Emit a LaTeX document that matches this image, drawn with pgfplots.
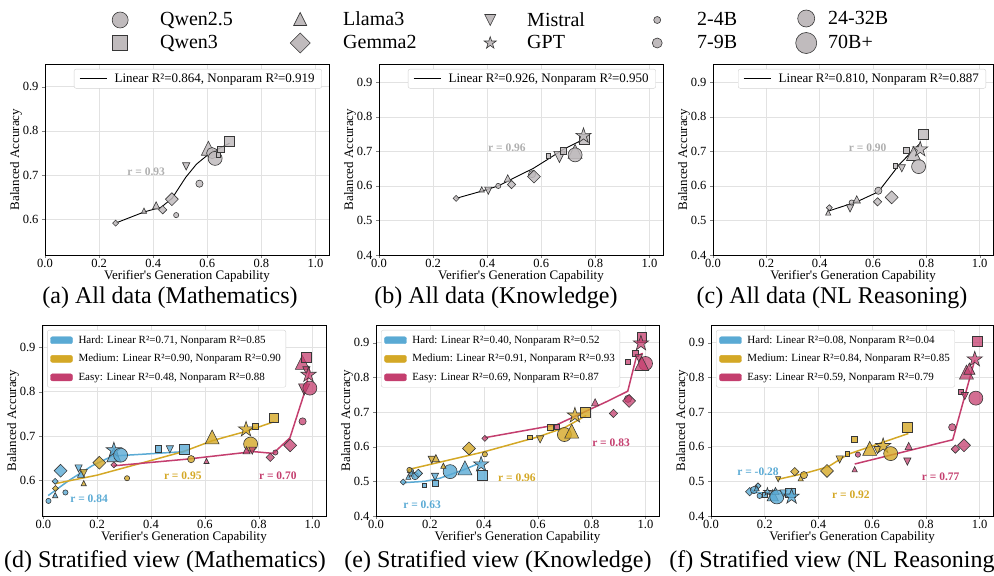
\documentclass[border=0pt]{standalone}
\usepackage{fontspec}
\setmainfont{Liberation Serif}
\usepackage{pgfplots}
\pgfplotsset{compat=1.18}

\definecolor{gfill}{RGB}{192,187,189}
\definecolor{gedge}{RGB}{55,55,55}
\definecolor{hardc}{RGB}{90,170,212}
\definecolor{medc}{RGB}{212,168,38}
\definecolor{easyc}{RGB}{196,62,110}
\definecolor{gridc}{RGB}{226,226,226}
\definecolor{rgray}{RGB}{175,175,175}

\pgfdeclareplotmark{msq}{\pgfpathrectangle{\pgfqpoint{-0.88\pgfplotmarksize}{-0.88\pgfplotmarksize}}{\pgfqpoint{1.76\pgfplotmarksize}{1.76\pgfplotmarksize}}\pgfusepathqfillstroke}
\pgfdeclareplotmark{mdia}{\pgfpathmoveto{\pgfqpoint{0pt}{1.15\pgfplotmarksize}}\pgfpathlineto{\pgfqpoint{1.15\pgfplotmarksize}{0pt}}\pgfpathlineto{\pgfqpoint{0pt}{-1.15\pgfplotmarksize}}\pgfpathlineto{\pgfqpoint{-1.15\pgfplotmarksize}{0pt}}\pgfpathclose\pgfusepathqfillstroke}
\pgfdeclareplotmark{mtri}{\pgfpathmoveto{\pgfqpoint{0pt}{\pgfplotmarksize}}\pgfpathlineto{\pgfqpoint{\pgfplotmarksize}{-\pgfplotmarksize}}\pgfpathlineto{\pgfqpoint{-\pgfplotmarksize}{-\pgfplotmarksize}}\pgfpathclose\pgfusepathqfillstroke}
\pgfdeclareplotmark{mtrid}{\pgfpathmoveto{\pgfqpoint{0pt}{-\pgfplotmarksize}}\pgfpathlineto{\pgfqpoint{\pgfplotmarksize}{\pgfplotmarksize}}\pgfpathlineto{\pgfqpoint{-\pgfplotmarksize}{\pgfplotmarksize}}\pgfpathclose\pgfusepathqfillstroke}
\pgfdeclareplotmark{mstar}{\pgfpathmoveto{\pgfqpoint{0pt}{1.15\pgfplotmarksize}}%
\pgfpathlineto{\pgfqpoint{-0.2586\pgfplotmarksize}{0.356\pgfplotmarksize}}%
\pgfpathlineto{\pgfqpoint{-1.0938\pgfplotmarksize}{0.3554\pgfplotmarksize}}%
\pgfpathlineto{\pgfqpoint{-0.4185\pgfplotmarksize}{-0.136\pgfplotmarksize}}%
\pgfpathlineto{\pgfqpoint{-0.676\pgfplotmarksize}{-0.9304\pgfplotmarksize}}%
\pgfpathlineto{\pgfqpoint{0pt}{-0.44\pgfplotmarksize}}%
\pgfpathlineto{\pgfqpoint{0.676\pgfplotmarksize}{-0.9304\pgfplotmarksize}}%
\pgfpathlineto{\pgfqpoint{0.4185\pgfplotmarksize}{-0.136\pgfplotmarksize}}%
\pgfpathlineto{\pgfqpoint{1.0938\pgfplotmarksize}{0.3554\pgfplotmarksize}}%
\pgfpathlineto{\pgfqpoint{0.2586\pgfplotmarksize}{0.356\pgfplotmarksize}}%
\pgfpathclose\pgfusepathqfillstroke}

\newcommand{\mk}[5]{\addplot[forget plot,only marks,mark=#1,mark size=#2pt,#3] coordinates {(#4,#5)};}

\pgfplotsset{
  gm/.style={mark options={solid,fill=gfill,draw=gedge,fill opacity=0.85,line width=0.6pt}},
  hm/.style={mark options={solid,fill=hardc,draw=gedge,fill opacity=0.8,line width=0.6pt}},
  mm/.style={mark options={solid,fill=medc,draw=gedge,fill opacity=0.8,line width=0.6pt}},
  em/.style={mark options={solid,fill=easyc,draw=gedge,fill opacity=0.75,line width=0.6pt}},
  base/.style={scale only axis, anchor=south west, xmin=0, xmax=1.05,
    xtick={0,0.2,0.4,0.6,0.8,1.0},
    grid=major, grid style={gridc, line width=0.6pt},
    tick align=outside, tick pos=left, major tick length=3pt,
    axis line style={line width=0.8pt},
    /pgf/number format/assume math mode=true,
    tick label style={font=\fontsize{12.5}{14}\selectfont},
    label style={font=\fontsize{13}{15}\selectfont},
    xticklabel style={yshift=2pt, /pgf/number format/.cd, fixed, fixed zerofill, precision=1},
    yticklabel style={/pgf/number format/.cd, fixed, fixed zerofill, precision=1},
    xlabel={Verifier\textquotesingle s Generation Capability}, ylabel={Balanced Accuracy},
    xlabel style={yshift=5pt}, ylabel shift=-6pt,
    height=191pt},
  toplegend/.style={legend style={at={(0.975,0.974)}, anchor=north east, draw=black!18,
    rounded corners=2pt, fill=white, font=\fontsize{13}{15}\selectfont, inner xsep=5pt, inner ysep=2.5pt},
    legend image code/.code={\draw[##1] (0pt,0pt) -- (27pt,0pt); \path[draw=none] (27pt,0pt) -- (33pt,0pt);}},
  botlegend/.style={legend cell align=left, legend style={at={(0.018,0.974)}, anchor=north west, draw=black!18,
    rounded corners=2pt, fill=white, font=\fontsize{11}{13}\selectfont, row sep=5.5pt, inner xsep=3pt, inner ysep=3.5pt},
    legend image code/.code={\fill[##1] (0pt,-3.5pt) rectangle (22pt,3.5pt); \path[draw=none] (22pt,0pt) -- (26pt,0pt);}},
  figleg/.style={at={(0pt,-60pt)}, anchor=south west, scale only axis, width=994pt, height=60pt,
    hide axis, xmin=0, xmax=1, ymin=0, ymax=1, legend cell align=left,
    legend style={draw=none, fill=none, font=\fontsize{20}{24}\selectfont, anchor=west,
      inner sep=0pt, row sep=5pt, nodes={inner sep=0pt}},
    legend image code/.code={\path[draw=none,fill=none] (-14pt,-9pt) rectangle (#1,9pt); \draw[##1] plot coordinates {(0pt,0pt)};}},
}

\begin{document}
\begin{tikzpicture}
\useasboundingbox (0pt,0pt) rectangle (994pt,-576pt);

% ---------- figure legend ----------
\begin{axis}[figleg=40pt, legend style={at={(0.1066,0.475)}}]
\addlegendimage{only marks, mark=*, mark size=8pt, mark options={fill=gfill,draw=gedge,line width=0.6pt}}
\addlegendentry{Qwen2.5}
\addlegendimage{only marks, mark=msq, mark size=8.5pt, mark options={fill=gfill,draw=gedge,line width=0.6pt}}
\addlegendentry{Qwen3}
\end{axis}
\begin{axis}[figleg=43pt, legend style={at={(0.2877,0.475)}}]
\addlegendimage{only marks, mark=mtri, mark size=6.5pt, mark options={fill=gfill,draw=gedge,line width=0.6pt}}
\addlegendentry{Llama3}
\addlegendimage{only marks, mark=mdia, mark size=8.7pt, mark options={fill=gfill,draw=gedge,line width=0.6pt}}
\addlegendentry{Gemma2}
\end{axis}
\begin{axis}[figleg=37pt, legend style={at={(0.4789,0.475)}}]
\addlegendimage{only marks, mark=mtrid, mark size=5.5pt, mark options={fill=gfill,draw=gedge,line width=0.6pt}}
\addlegendentry{Mistral}
\addlegendimage{only marks, mark=mstar, mark size=5.5pt, mark options={fill=gfill,draw=gedge,line width=0.6pt}}
\addlegendentry{GPT}
\end{axis}
\begin{axis}[figleg=40pt, legend style={at={(0.6469,0.475)}}]
\addlegendimage{only marks, mark=*, mark size=3.5pt, mark options={fill=gfill,draw=gedge,line width=0.6pt}}
\addlegendentry{2-4B}
\addlegendimage{only marks, mark=*, mark size=5pt, mark options={fill=gfill,draw=gedge,line width=0.6pt}}
\addlegendentry{7-9B}
\end{axis}
\begin{axis}[figleg=22pt, legend style={at={(0.7968,0.475)}}]
\addlegendimage{only marks, mark=*, mark size=8.5pt, mark options={fill=gfill,draw=gedge,line width=0.6pt}}
\addlegendentry{24-32B}
\addlegendimage{only marks, mark=*, mark size=10.5pt, mark options={fill=gfill,draw=gedge,line width=0.6pt}}
\addlegendentry{70B+}
\end{axis}

% ---------- (a) ----------
\begin{axis}[base, at={(45pt,-255pt)}, width=284pt, ymin=0.52, ymax=0.951, ytick={0.6,0.7,0.8,0.9}, toplegend]
\mk{mdia}{2.6}{gm}{0.261}{0.592}
\mk{mtri}{2.6}{gm}{0.366}{0.620}
\mk{mtri}{3.6}{gm}{0.411}{0.632}
\mk{mdia}{3.6}{gm}{0.435}{0.622}
\mk{mdia}{5.6}{gm}{0.469}{0.646}
\mk{*}{2.6}{gm}{0.485}{0.610}
\mk{mtrid}{3.6}{gm}{0.522}{0.720}
\mk{*}{3.6}{gm}{0.571}{0.681}
\mk{mtri}{7.0}{gm}{0.604}{0.761}
\mk{*}{5.6}{gm}{0.618}{0.750}
\mk{*}{7.0}{gm}{0.629}{0.738}
\mk{msq}{2.6}{gm}{0.641}{0.746}
\mk{msq}{3.6}{gm}{0.650}{0.758}
\mk{msq}{5.6}{gm}{0.682}{0.777}
\addplot[forget plot, black, line width=0.9pt] coordinates {(0.261,0.592) (0.366,0.617) (0.43,0.628) (0.47,0.648) (0.52,0.695) (0.56,0.725) (0.61,0.750) (0.682,0.772)};
\addlegendimage{black, line width=1pt}
\addlegendentry{Linear R²=0.864, Nonparam R²=0.919}
\node[font=\bfseries\fontsize{11.5}{13}\selectfont, text=rgray] at (axis cs:0.374,0.708) {r = 0.93};
\end{axis}

% ---------- (b) ----------
\begin{axis}[base, at={(379pt,-255pt)}, width=284pt, ymin=0.4, ymax=0.953, ytick={0.4,0.5,0.6,0.7,0.8,0.9}, toplegend]
\mk{mdia}{2.6}{gm}{0.285}{0.564}
\mk{mtri}{2.6}{gm}{0.380}{0.590}
\mk{mtrid}{3.6}{gm}{0.404}{0.586}
\mk{*}{2.6}{gm}{0.441}{0.600}
\mk{mtri}{3.6}{gm}{0.476}{0.622}
\mk{mdia}{3.6}{gm}{0.490}{0.604}
\mk{*}{3.6}{gm}{0.566}{0.634}
\mk{mdia}{5.6}{gm}{0.573}{0.627}
\mk{msq}{2.6}{gm}{0.626}{0.687}
\mk{mtrid}{5.6}{gm}{0.667}{0.684}
\mk{msq}{3.6}{gm}{0.682}{0.702}
\mk{mtri}{7.0}{gm}{0.725}{0.700}
\mk{*}{7.0}{gm}{0.725}{0.690}
\mk{msq}{5.6}{gm}{0.758}{0.736}
\mk{mstar}{7.0}{gm}{0.756}{0.745}
\addplot[forget plot, black, line width=0.9pt] coordinates {(0.285,0.564) (0.38,0.585) (0.441,0.600) (0.509,0.627) (0.571,0.651) (0.62,0.675) (0.682,0.706) (0.756,0.735)};
\addlegendimage{black, line width=1pt}
\addlegendentry{Linear R²=0.926, Nonparam R²=0.950}
\node[font=\bfseries\fontsize{11.5}{13}\selectfont, text=rgray] at (axis cs:0.473,0.71) {r = 0.96};
\end{axis}

% ---------- (c) ----------
\begin{axis}[base, at={(713pt,-255pt)}, width=280pt, ymin=0.4, ymax=0.953, ytick={0.4,0.5,0.6,0.7,0.8,0.9}, toplegend]
\mk{mdia}{2.6}{gm}{0.436}{0.537}
\mk{mtri}{2.6}{gm}{0.432}{0.523}
\mk{mtrid}{3.6}{gm}{0.514}{0.535}
\mk{*}{2.6}{gm}{0.520}{0.552}
\mk{mtri}{3.6}{gm}{0.539}{0.561}
\mk{*}{3.6}{gm}{0.620}{0.586}
\mk{mdia}{3.6}{gm}{0.617}{0.554}
\mk{mdia}{5.6}{gm}{0.670}{0.567}
\mk{msq}{2.6}{gm}{0.683}{0.658}
\mk{mtrid}{3.6}{gm}{0.708}{0.651}
\mk{msq}{3.6}{gm}{0.724}{0.704}
\mk{mtri}{7.0}{gm}{0.752}{0.694}
\mk{*}{7.0}{gm}{0.771}{0.656}
\mk{mstar}{7.0}{gm}{0.777}{0.706}
\mk{msq}{5.6}{gm}{0.787}{0.750}
\addplot[forget plot, black, line width=0.9pt] coordinates {(0.432,0.527) (0.539,0.554) (0.62,0.583) (0.702,0.665) (0.779,0.725)};
\addlegendimage{black, line width=1pt}
\addlegendentry{Linear R²=0.810, Nonparam R²=0.887}
\node[font=\bfseries\fontsize{11.5}{13}\selectfont, text=rgray] at (axis cs:0.58,0.71) {r = 0.90};
\end{axis}

% ---------- (d) ----------
\begin{axis}[base, at={(42pt,-516pt)}, width=284pt, xmin=-0.005, ymin=0.52, ymax=0.95, ytick={0.6,0.7,0.8,0.9}, botlegend]
% hard
\mk{*}{2.6}{hm}{0.019}{0.554}
\mk{mtri}{2.6}{hm}{0.044}{0.567}
\mk{*}{2.6}{hm}{0.082}{0.573}
\mk{mdia}{2.6}{hm}{0.044}{0.598}
\mk{mdia}{5.6}{hm}{0.064}{0.622}
\mk{mtri}{3.6}{hm}{0.14}{0.615}
\mk{mtrid}{3.6}{hm}{0.131}{0.627}
\mk{mtri}{7.0}{hm}{0.262}{0.658}
\mk{mstar}{7.0}{hm}{0.262}{0.668}
\mk{*}{7.0}{hm}{0.287}{0.657}
\mk{msq}{3.6}{hm}{0.427}{0.671}
\mk{mtrid}{3.6}{hm}{0.470}{0.670}
\mk{msq}{5.6}{hm}{0.525}{0.670}
% medium
\mk{mdia}{2.6}{mm}{0.045}{0.582}
\mk{mtri}{2.6}{mm}{0.150}{0.594}
\mk{mtrid}{3.6}{mm}{0.150}{0.617}
\mk{mdia}{5.6}{mm}{0.208}{0.640}
\mk{*}{2.6}{mm}{0.311}{0.605}
\mk{*}{3.6}{mm}{0.549}{0.648}
\mk{mtri}{7.0}{mm}{0.627}{0.698}
\mk{mstar}{7.0}{mm}{0.753}{0.715}
\mk{msq}{3.6}{mm}{0.788}{0.722}
\mk{*}{7.0}{mm}{0.770}{0.682}
\mk{msq}{5.6}{mm}{0.856}{0.741}
% easy
\mk{mdia}{2.6}{em}{0.262}{0.635}
\mk{mtri}{2.6}{em}{0.606}{0.644}
\mk{mtri}{3.6}{em}{0.755}{0.668}
\mk{mtrid}{3.6}{em}{0.776}{0.667}
\mk{mdia}{3.6}{em}{0.843}{0.652}
\mk{*}{2.6}{em}{0.862}{0.663}
\mk{mdia}{5.6}{em}{0.917}{0.679}
\mk{*}{3.6}{em}{0.963}{0.733}
\mk{mtrid}{5.6}{em}{0.969}{0.805}
\mk{*}{7.0}{em}{0.990}{0.808}
\mk{mtri}{7.0}{em}{0.962}{0.866}
\mk{msq}{5.6}{em}{0.978}{0.878}
\mk{mtrid}{3.6}{em}{0.977}{0.848}
\mk{mstar}{7.0}{em}{0.985}{0.838}
\addplot[forget plot, hardc, line width=1.5pt] coordinates {(0.018,0.566) (0.095,0.600) (0.181,0.633) (0.256,0.655) (0.367,0.659) (0.525,0.665)};
\addplot[forget plot, medc, line width=1.5pt] coordinates {(0.045,0.593) (0.2,0.612) (0.4,0.645) (0.52,0.665) (0.63,0.690) (0.75,0.710) (0.856,0.732)};
\addplot[forget plot, easyc, line width=1.5pt] coordinates {(0.261,0.633) (0.533,0.648) (0.78,0.665) (0.854,0.661) (0.916,0.696) (0.966,0.790) (0.99,0.848)};
\addlegendimage{hardc}\addlegendentry{Hard: Linear R²=0.71, Nonparam R²=0.85}
\addlegendimage{medc}\addlegendentry{Medium: Linear R²=0.90, Nonparam R²=0.90}
\addlegendimage{easyc}\addlegendentry{Easy: Linear R²=0.48, Nonparam R²=0.88}
\node[font=\bfseries\fontsize{11.5}{13}\selectfont, text=hardc] at (axis cs:0.17,0.559) {r = 0.84};
\node[font=\bfseries\fontsize{11.5}{13}\selectfont, text=medc] at (axis cs:0.518,0.611) {r = 0.95};
\node[font=\bfseries\fontsize{11.5}{13}\selectfont, text=easyc] at (axis cs:0.871,0.611) {r = 0.70};
\end{axis}

% ---------- (e) ----------
\begin{axis}[base, at={(376pt,-516pt)}, width=283pt, ymin=0.4, ymax=0.951, ytick={0.4,0.5,0.6,0.7,0.8,0.9}, botlegend]
% hard
\mk{mdia}{2.6}{hm}{0.101}{0.498}
\mk{mtri}{2.6}{hm}{0.120}{0.513}
\mk{*}{2.6}{hm}{0.130}{0.530}
\mk{mstar}{3.6}{hm}{0.132}{0.522}
\mk{*}{3.6}{hm}{0.145}{0.515}
\mk{mdia}{3.6}{hm}{0.157}{0.523}
\mk{msq}{2.6}{hm}{0.179}{0.489}
\mk{mtrid}{3.6}{hm}{0.219}{0.513}
\mk{msq}{3.6}{hm}{0.221}{0.494}
\mk{*}{7.0}{hm}{0.275}{0.528}
\mk{mtri}{7.0}{hm}{0.330}{0.539}
\mk{mstar}{7.0}{hm}{0.390}{0.549}
\mk{msq}{5.6}{hm}{0.394}{0.518}
% medium
\mk{*}{2.6}{mm}{0.124}{0.533}
\mk{mtrid}{3.6}{mm}{0.207}{0.562}
\mk{mtri}{3.6}{mm}{0.222}{0.567}
\mk{mtri}{2.6}{mm}{0.250}{0.545}
\mk{mdia}{5.6}{mm}{0.345}{0.595}
\mk{*}{2.6}{mm}{0.404}{0.578}
\mk{msq}{2.6}{mm}{0.571}{0.627}
\mk{mtrid}{3.6}{mm}{0.609}{0.621}
\mk{msq}{3.6}{mm}{0.646}{0.656}
\mk{*}{7.0}{mm}{0.699}{0.635}
\mk{mtri}{7.0}{mm}{0.726}{0.645}
\mk{mstar}{7.0}{mm}{0.738}{0.690}
\mk{msq}{5.6}{mm}{0.776}{0.698}
% easy
\mk{mdia}{2.6}{em}{0.404}{0.624}
\mk{msq}{2.6}{em}{0.670}{0.657}
\mk{mtri}{3.6}{em}{0.813}{0.728}
\mk{mdia}{3.6}{em}{0.881}{0.696}
\mk{*}{3.6}{em}{0.935}{0.738}
\mk{mdia}{5.6}{em}{0.939}{0.732}
\mk{msq}{2.6}{em}{0.934}{0.845}
\mk{msq}{3.6}{em}{0.961}{0.869}
\mk{mtrid}{3.6}{em}{0.975}{0.855}
\mk{*}{7.0}{em}{1.000}{0.840}
\mk{mtri}{7.0}{em}{0.986}{0.840}
\mk{msq}{5.6}{em}{0.986}{0.915}
\mk{mstar}{7.0}{em}{0.983}{0.898}
\addplot[forget plot, hardc, line width=1.5pt] coordinates {(0.101,0.496) (0.18,0.500) (0.237,0.509) (0.324,0.533) (0.392,0.555)};
\addplot[forget plot, medc, line width=1.5pt] coordinates {(0.125,0.535) (0.4,0.585) (0.6,0.628) (0.7,0.655) (0.78,0.690)};
\addplot[forget plot, easyc, line width=1.5pt] coordinates {(0.404,0.626) (0.67,0.663) (0.856,0.730) (0.934,0.760) (0.967,0.862) (0.99,0.869)};
\addlegendimage{hardc}\addlegendentry{Hard: Linear R²=0.40, Nonparam R²=0.52}
\addlegendimage{medc}\addlegendentry{Medium: Linear R²=0.91, Nonparam R²=0.93}
\addlegendimage{easyc}\addlegendentry{Easy: Linear R²=0.69, Nonparam R²=0.87}
\node[font=\bfseries\fontsize{11.5}{13}\selectfont, text=hardc] at (axis cs:0.171,0.432) {r = 0.63};
\node[font=\bfseries\fontsize{11.5}{13}\selectfont, text=medc] at (axis cs:0.523,0.51) {r = 0.96};
\node[font=\bfseries\fontsize{11.5}{13}\selectfont, text=easyc] at (axis cs:0.872,0.61) {r = 0.83};
\end{axis}

% ---------- (f) ----------
\begin{axis}[base, at={(711pt,-516pt)}, width=282pt, ymin=0.4, ymax=0.951, ytick={0.4,0.5,0.6,0.7,0.8,0.9}, botlegend]
% hard
\mk{mdia}{3.6}{hm}{0.144}{0.470}
\mk{mdia}{2.6}{hm}{0.175}{0.487}
\mk{*}{3.6}{hm}{0.160}{0.475}
\mk{mtri}{2.6}{hm}{0.170}{0.480}
\mk{*}{2.6}{hm}{0.181}{0.458}
\mk{msq}{2.6}{hm}{0.200}{0.462}
\mk{mstar}{3.6}{hm}{0.210}{0.470}
\mk{mtri}{5.6}{hm}{0.230}{0.460}
\mk{mtri}{3.6}{hm}{0.240}{0.472}
\mk{*}{7.0}{hm}{0.245}{0.455}
\mk{mtrid}{3.6}{hm}{0.270}{0.465}
\mk{msq}{5.6}{hm}{0.295}{0.467}
\mk{mstar}{7.0}{hm}{0.300}{0.456}
% medium
\mk{mtrid}{2.6}{mm}{0.250}{0.506}
\mk{mdia}{3.6}{mm}{0.312}{0.528}
\mk{mtri}{2.6}{mm}{0.334}{0.509}
\mk{*}{3.6}{mm}{0.346}{0.518}
\mk{mdia}{5.6}{mm}{0.432}{0.530}
\mk{mtrid}{3.6}{mm}{0.479}{0.563}
\mk{msq}{2.6}{mm}{0.508}{0.580}
\mk{msq}{3.6}{mm}{0.533}{0.622}
\mk{mtri}{7.0}{mm}{0.591}{0.595}
\mk{mtrid}{3.6}{mm}{0.620}{0.590}
\mk{mstar}{7.0}{mm}{0.641}{0.602}
\mk{*}{7.0}{mm}{0.669}{0.580}
\mk{msq}{5.6}{mm}{0.731}{0.656}
% easy
\mk{mtri}{2.6}{em}{0.535}{0.535}
\mk{*}{2.6}{em}{0.547}{0.577}
\mk{mtrid}{3.6}{em}{0.731}{0.557}
\mk{mtri}{3.6}{em}{0.736}{0.602}
\mk{*}{3.6}{em}{0.898}{0.656}
\mk{mdia}{3.6}{em}{0.910}{0.593}
\mk{mdia}{5.6}{em}{0.942}{0.604}
\mk{msq}{2.6}{em}{0.930}{0.758}
\mk{mtrid}{3.6}{em}{0.945}{0.746}
\mk{*}{7.0}{em}{0.986}{0.740}
\mk{mtri}{7.0}{em}{0.951}{0.815}
\mk{mtri}{5.6}{em}{0.962}{0.825}
\mk{mstar}{7.0}{em}{0.982}{0.852}
\mk{msq}{5.6}{em}{0.992}{0.905}
\addplot[forget plot, hardc, line width=1.5pt] coordinates {(0.15,0.468) (0.22,0.466) (0.30,0.463)};
\addplot[forget plot, medc, line width=1.5pt] coordinates {(0.25,0.506) (0.349,0.523) (0.436,0.542) (0.51,0.578) (0.735,0.638)};
\addplot[forget plot, easyc, line width=1.5pt] coordinates {(0.535,0.550) (0.90,0.620) (0.982,0.850)};
\addlegendimage{hardc}\addlegendentry{Hard: Linear R²=0.08, Nonparam R²=0.04}
\addlegendimage{medc}\addlegendentry{Medium: Linear R²=0.84, Nonparam R²=0.85}
\addlegendimage{easyc}\addlegendentry{Easy: Linear R²=0.59, Nonparam R²=0.79}
\node[font=\bfseries\fontsize{11.5}{13}\selectfont, text=hardc] at (axis cs:0.175,0.528) {r = -0.28};
\node[font=\bfseries\fontsize{11.5}{13}\selectfont, text=medc] at (axis cs:0.521,0.46) {r = 0.92};
\node[font=\bfseries\fontsize{11.5}{13}\selectfont, text=easyc] at (axis cs:0.855,0.513) {r = 0.77};
\end{axis}

% ---------- captions ----------
\node[font=\fontsize{24}{28}\selectfont] at (170pt,-298pt) {(a) All data (Mathematics)};
\node[font=\fontsize{24}{28}\selectfont] at (496pt,-298pt) {(b) All data (Knowledge)};
\node[font=\fontsize{24}{28}\selectfont] at (832pt,-298pt) {(c) All data (NL Reasoning)};
\node[font=\fontsize{24}{28}\selectfont] at (165pt,-562pt) {(d) Stratified view (Mathematics)};
\node[font=\fontsize{24}{28}\selectfont] at (498pt,-562pt) {(e) Stratified view (Knowledge)};
\node[font=\fontsize{24}{28}\selectfont] at (836pt,-562pt) {(f) Stratified view (NL Reasoning)};
\end{tikzpicture}
\end{document}
